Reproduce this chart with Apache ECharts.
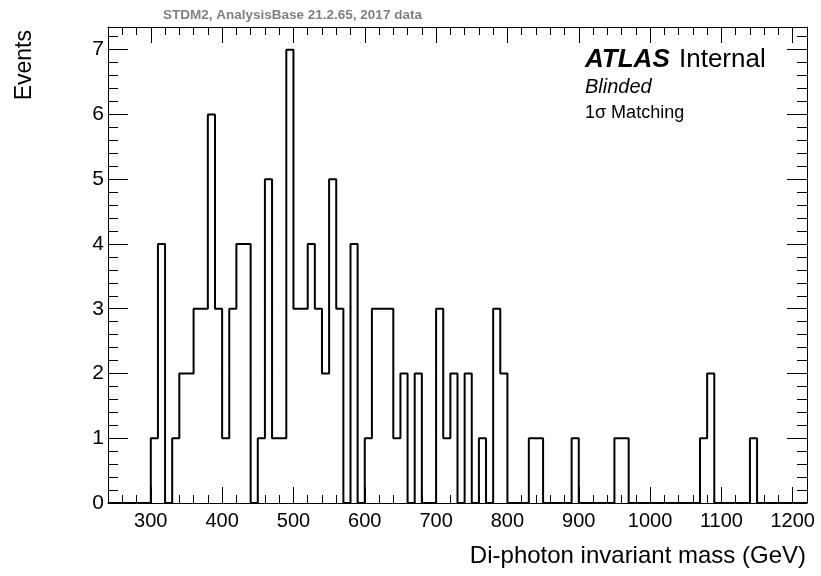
<!DOCTYPE html>
<html>
<head>
<meta charset="utf-8">
<script src="https://cdn.jsdelivr.net/npm/echarts@6/dist/echarts.min.js"></script>
<style>
html,body{margin:0;padding:0;background:#fff;}
#chart{width:821px;height:576px;}
</style>
</head>
<body>
<div id="chart"></div>
<script>
// Histogram binning (GeV)
const binStart = 240;
const binWidth = 10;
const xMin = 240;
const xMax = 1220;
// Events per 10 GeV bin, starting at 240 GeV
const counts = [
  0,0,0,0,0,0,            // 240-300
  1,4,0,1,2,2,3,3,6,3,    // 300-400
  1,3,4,4,0,1,5,1,1,7,    // 400-500
  3,3,4,3,2,5,3,0,4,0,    // 500-600
  1,3,3,3,1,2,0,2,0,0,    // 600-700
  3,1,2,0,2,0,1,0,3,2,    // 700-800
  0,0,0,1,1,0,0,0,0,1,    // 800-900
  0,0,0,0,0,1,1,0,0,0,    // 900-1000
  0,0,0,0,0,0,0,1,2,0,    // 1000-1100
  0,0,0,0,1,0,0,0,0,0,    // 1100-1200
  0,0                     // 1200-1220
];
const xTickLabels = [300,400,500,600,700,800,900,1000,1100,1200];
const yMax = 7.35;

const FONT = '"Liberation Sans", Arial, Helvetica, sans-serif';

const lineData = counts.map((v, i) => [binStart + i * binWidth, v]);
lineData.push([binStart + counts.length * binWidth, counts[counts.length - 1]]);

const chart = echarts.init(document.getElementById('chart'), null, {renderer: 'canvas'});

const baseX = {
  type: 'value', min: xMin, max: xMax, interval: 20,
  splitLine: {show: false},
  axisLine: {show: true, onZero: false, lineStyle: {color: '#000', width: 1}},
  axisTick: {show: true, inside: true, length: 8, lineStyle: {color: '#000', width: 1}},
  axisLabel: {show: false}
};
const majorX = {
  type: 'value', min: xMin, max: xMax,
  splitLine: {show: false},
  axisLine: {show: false, onZero: false},
  axisTick: {show: true, inside: true, length: 16, customValues: xTickLabels, lineStyle: {color: '#000', width: 1}},
  axisLabel: {show: false}
};
const baseY = {
  type: 'value', min: 0, max: yMax, interval: 1,
  splitLine: {show: false}, minorSplitLine: {show: false},
  axisLine: {show: true, onZero: false, lineStyle: {color: '#000', width: 1}},
  axisTick: {show: true, inside: true, length: 20, lineStyle: {color: '#000', width: 1}},
  minorTick: {show: true, splitNumber: 5, length: 10, lineStyle: {color: '#000', width: 1}},
  axisLabel: {show: false}
};

const option = {
  animation: false,
  backgroundColor: '#fff',
  grid: {left: 108, right: 14, top: 27, bottom: 73, containLabel: false},
  xAxis: [
    Object.assign({}, baseX, {position: 'bottom',
      axisLabel: {show: true, customValues: xTickLabels, color: '#000', fontSize: 20, fontFamily: FONT, margin: 8,
        formatter: v => String(v)}}),
    Object.assign({}, majorX, {position: 'bottom'}),
    Object.assign({}, baseX, {position: 'top'}),
    Object.assign({}, majorX, {position: 'top'})
  ],
  yAxis: [
    Object.assign({}, baseY, {position: 'left',
      axisLabel: {show: true, color: '#000', fontSize: 21, fontFamily: FONT, margin: 4, showMaxLabel: false,
        formatter: v => String(v)}}),
    Object.assign({}, baseY, {position: 'right'})
  ],
  series: [{
    type: 'line',
    xAxisIndex: 0, yAxisIndex: 0,
    step: 'end',
    data: lineData,
    showSymbol: false,
    symbol: 'none',
    lineStyle: {color: '#000', width: 2},
    z: 5
  }],
  graphic: [
    {type: 'text', left: 163, top: 8,
      style: {text: 'STDM2, AnalysisBase 21.2.65, 2017 data', fill: '#808080', font: 'bold 13.5px ' + FONT}},
    {type: 'text', x: 25, y: 30, rotation: Math.PI / 2,
      style: {text: 'Events', fill: '#000', font: '23px ' + FONT, textAlign: 'right', textVerticalAlign: 'middle'}},
    {type: 'text', x: 806, y: 556,
      style: {text: 'Di-photon invariant mass (GeV)', fill: '#000', font: '24px ' + FONT, textAlign: 'right', textVerticalAlign: 'middle'}},
    {type: 'text', left: 585, top: 47,
      style: {text: 'ATLAS', fill: '#000', font: 'italic bold 26px ' + FONT}},
    {type: 'text', left: 679, top: 47,
      style: {text: 'Internal', fill: '#000', font: '26px ' + FONT}},
    {type: 'text', left: 585, top: 77,
      style: {text: 'Blinded', fill: '#000', font: 'italic 20px ' + FONT}},
    {type: 'text', left: 585, top: 104,
      style: {text: '1σ Matching', fill: '#000', font: '18px ' + FONT}}
  ]
};
chart.setOption(option);
</script>
</body>
</html>
